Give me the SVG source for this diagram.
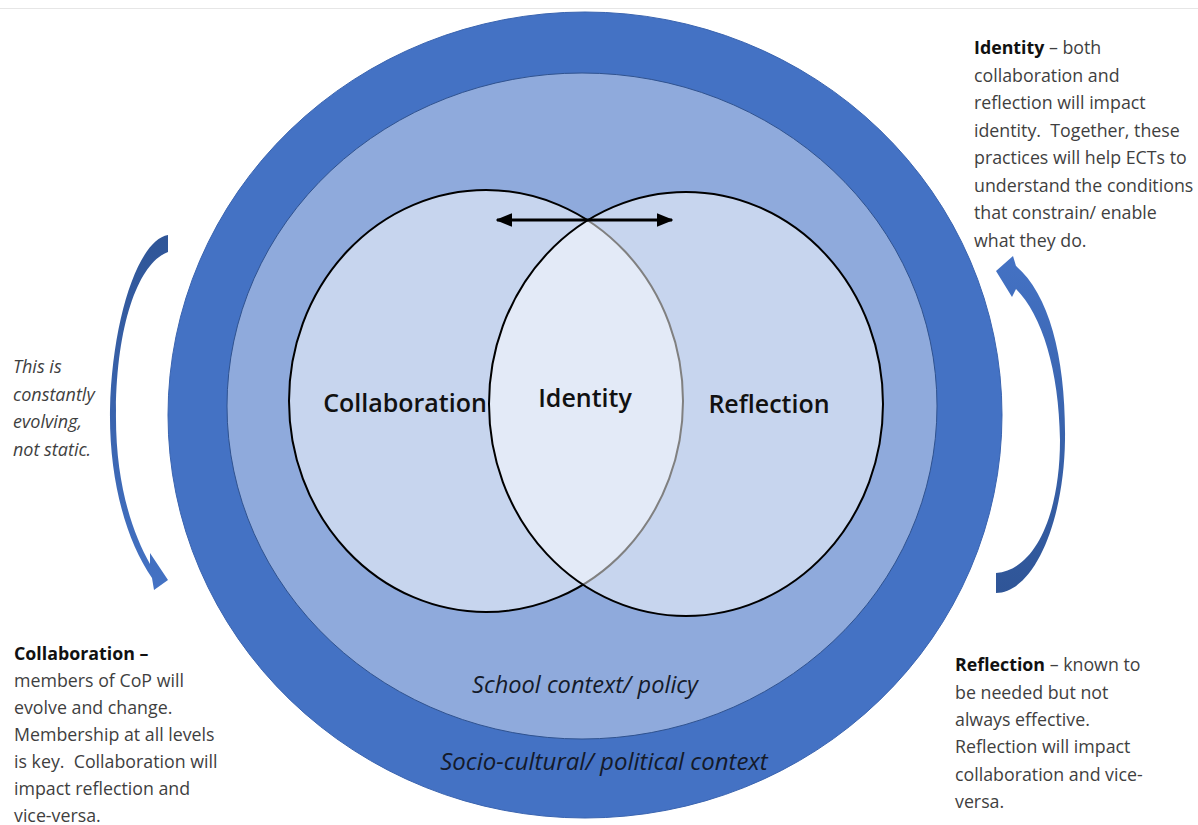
<svg xmlns="http://www.w3.org/2000/svg" width="1198" height="825" viewBox="0 0 1198 825">
  <style>
    text { white-space: pre; }
    .body { font-family: "Open Sans", "Liberation Sans", sans-serif; font-size: 17.8px; fill: #3f3f3f; }
    .body .b { font-weight: 700; fill: #111; }
    .note { font-family: "Open Sans", "Liberation Sans", sans-serif; font-size: 18px; font-style: italic; fill: #3f3f3f; }
    .big { font-family: "Open Sans", "Liberation Sans", sans-serif; font-size: 25px; font-weight: 600; fill: #111; text-anchor: middle; }
    .ctx { font-family: "Open Sans", "Liberation Sans", sans-serif; font-style: italic; fill: #141a2a; text-anchor: middle; }
    .venn { fill: #ffffff; fill-opacity: 0.5; stroke: #000; stroke-width: 2; }
  </style>
  <defs>
    <linearGradient id="gradDown" x1="0" y1="0" x2="0" y2="1">
      <stop offset="0" stop-color="#2f5597"/>
      <stop offset="1" stop-color="#4472c4"/>
    </linearGradient>
    <linearGradient id="gradUp" x1="0" y1="0" x2="0" y2="1">
      <stop offset="0" stop-color="#4472c4"/>
      <stop offset="1" stop-color="#2f5597"/>
    </linearGradient>
    <marker id="head" viewBox="0 0 12 10" refX="11" refY="5" markerWidth="6" markerHeight="5" orient="auto-start-reverse" markerUnits="strokeWidth">
      <path d="M0,0 L12,5 L0,10 Z" fill="#000"/>
    </marker>
  </defs>

  <rect x="0" y="0" width="1198" height="825" fill="#ffffff"/>
  <line x1="0" y1="8.5" x2="1198" y2="8.5" stroke="#e6e6e6" stroke-width="1"/>

  <!-- outer ring: socio-cultural / political context -->
  <g id="socio-context">
    <ellipse cx="585" cy="415" rx="417" ry="403" fill="#4472c4" stroke="#3a64b0" stroke-width="1"/>
    <text class="ctx" x="604" y="770" font-size="24">Socio-cultural/ political context</text>
  </g>

  <!-- middle ring: school context / policy -->
  <g id="school-context">
    <ellipse cx="582" cy="406" rx="355" ry="333" fill="#8faadc" stroke="#2f528f" stroke-width="1"/>
    <text class="ctx" x="585" y="693" font-size="23.6">School context/ policy</text>
  </g>

  <!-- Venn circles -->
  <g id="collaboration">
    <ellipse class="venn" cx="486" cy="401" rx="197" ry="211"/>
    <text class="big" x="405" y="412">Collaboration</text>
  </g>
  <g id="reflection">
    <ellipse class="venn" cx="686" cy="404" rx="197" ry="212"/>
    <text class="big" x="769" y="413">Reflection</text>
  </g>
  <g id="identity">
    <text class="big" x="585" y="407">Identity</text>
  </g>

  <!-- connectors -->
  <g id="connectors">
    <line x1="497" y1="220" x2="672" y2="220" stroke="#000" stroke-width="2.8" marker-start="url(#head)" marker-end="url(#head)"/>
    <!-- left curved arrow, pointing down -->
    <path d="M168,235 C138,240 112,320 110,410 C109,480 126,540 152,578 L154,590 L168,580 L150,553 L150,564 C131,530 115,480 116,410 C117,320 140,262 168,252 Z" fill="url(#gradDown)"/>
    <!-- right curved arrow, pointing up -->
    <path d="M996,593 C1035,592 1064,520 1065,440 C1066,360 1050,295 1016,266 L1013,256 L996,271 L1012,297 L1016,289 C1042,315 1059,370 1060,440 C1060,515 1035,570 996,573 Z" fill="url(#gradUp)"/>
  </g>

  <!-- side notes -->
  <g id="note-evolving" class="note">
    <text x="13" y="373">This is</text>
    <text x="13" y="400.5">constantly</text>
    <text x="13" y="428">evolving,</text>
    <text x="13" y="455.5">not static.</text>
  </g>

  <g id="note-identity" class="body">
    <text x="974" y="54"><tspan class="b">Identity</tspan> – both</text>
    <text x="974" y="81.5">collaboration and</text>
    <text x="974" y="109">reflection will impact</text>
    <text x="974" y="136.5">identity.  Together, these</text>
    <text x="974" y="164">practices will help ECTs to</text>
    <text x="974" y="191.5">understand the conditions</text>
    <text x="974" y="219">that constrain/ enable</text>
    <text x="974" y="246.5">what they do.</text>
  </g>

  <g id="note-collaboration" class="body">
    <text x="14" y="660"><tspan class="b">Collaboration –</tspan></text>
    <text x="14" y="687">members of CoP will</text>
    <text x="14" y="714">evolve and change.</text>
    <text x="14" y="741">Membership at all levels</text>
    <text x="14" y="768">is key.  Collaboration will</text>
    <text x="14" y="795">impact reflection and</text>
    <text x="14" y="822">vice-versa.</text>
  </g>

  <g id="note-reflection" class="body">
    <text x="955" y="671"><tspan class="b">Reflection</tspan> – known to</text>
    <text x="955" y="698.5">be needed but not</text>
    <text x="955" y="726">always effective.</text>
    <text x="955" y="753">Reflection will impact</text>
    <text x="955" y="780.5">collaboration and vice-</text>
    <text x="955" y="808">versa.</text>
  </g>
</svg>
